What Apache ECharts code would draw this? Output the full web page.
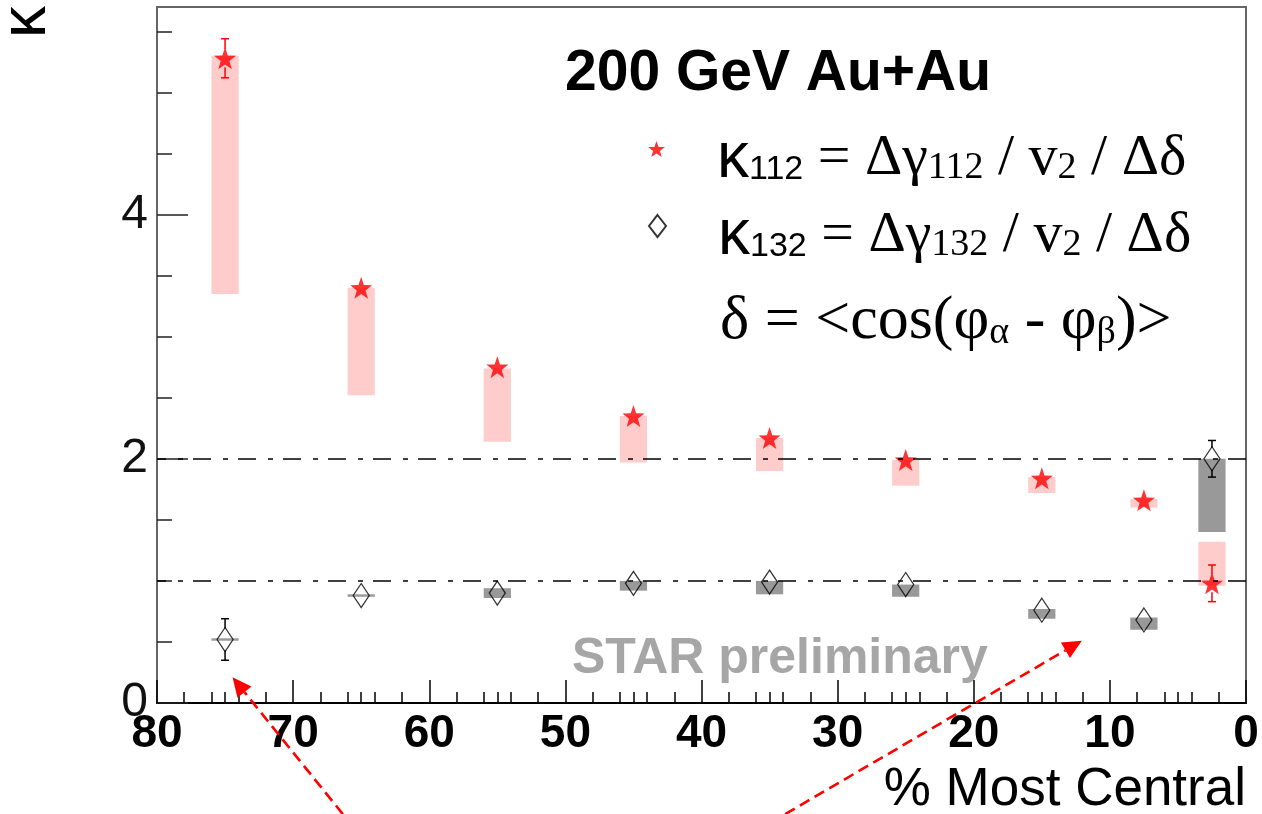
<!DOCTYPE html>
<html>
<head>
<meta charset="utf-8">
<script src="https://cdn.jsdelivr.net/npm/echarts@6/dist/echarts.min.js"></script>
<style>
html,body{margin:0;padding:0;background:#fff}
#main{width:1262px;height:814px}
</style>
</head>
<body>
<div id="main"></div>
<script>
// centrality bin centres (% most central)
var cent = [75, 65, 55, 45, 35, 25, 15, 7.5, 2.5];

// kappa_112 (red stars)
var k112 = [5.28, 3.40, 2.75, 2.35, 2.17, 1.99, 1.84, 1.66, 0.98];
var k112Err = [0.16, 0.04, 0.04, 0.04, 0.04, 0.04, 0.04, 0.05, 0.15];
var k112SysLo = [3.35, 2.52, 2.14, 1.97, 1.90, 1.78, 1.72, 1.60, 0.96];
var k112SysHi = [5.30, 3.40, 2.74, 2.35, 2.17, 1.99, 1.85, 1.67, 1.32];

// kappa_132 (open diamonds)
var k132 = [0.52, 0.88, 0.90, 0.98, 0.99, 0.97, 0.76, 0.68, 2.00];
var k132Err = [0.17, 0.03, 0.03, 0.03, 0.03, 0.03, 0.03, 0.03, 0.15];
var k132SysLo = [0.51, 0.87, 0.86, 0.92, 0.89, 0.87, 0.69, 0.60, 1.40];
var k132SysHi = [0.53, 0.89, 0.94, 1.00, 1.00, 0.97, 0.77, 0.70, 2.00];

// ticks
var xMajorTicks = [0, 10, 20, 30, 40, 50, 60, 70, 80];
var xMinorTicks = [2, 4, 5, 6, 8, 12, 14, 15, 16, 18, 22, 24, 25, 26, 28, 32, 34, 35, 36, 38,
  42, 44, 45, 46, 48, 52, 54, 55, 56, 58, 62, 64, 65, 66, 68, 72, 74, 75, 76, 78];
var yMajorTicks = [0, 2, 4];
var yMinorTicks = [0.5, 1, 1.5, 2.5, 3, 3.5, 4.5, 5, 5.5];
var refLines = [1, 2];

// annotation arrows [fromX, fromY, toX, toY]
var arrows = [[66.35, -0.91, 74.45, 0.21], [33.85, -0.91, 12.06, 0.51]];

var starPath = 'path://M0,-10L2.35,-3.24L9.51,-3.09L3.8,1.24L5.88,8.09L0,4.1L-5.88,8.09L-3.8,1.24L-9.51,-3.09L-2.35,-3.24Z';
var SANS = 'Liberation Sans';
var SERIF = 'Liberation Serif';

function boxes(lo, hi) {
  return cent.map(function (c, i) { return [c, lo[i], hi[i]]; });
}
function errs(v, e) {
  return cent.map(function (c, i) { return [c, v[i], e[i]]; });
}
function renderBox(color) {
  return function (params, api) {
    var p1 = api.coord([api.value(0) + 1, api.value(2)]);
    var p2 = api.coord([api.value(0) - 1, api.value(1)]);
    return {
      type: 'rect',
      shape: { x: Math.min(p1[0], p2[0]), y: p1[1], width: Math.abs(p2[0] - p1[0]), height: p2[1] - p1[1] },
      style: { fill: color }
    };
  };
}
// error bar drawn only outside the marker, like ROOT does
function renderErr(color, half) {
  return function (params, api) {
    var x = api.value(0), v = api.value(1), e = api.value(2);
    var c = api.coord([x, v]), t = api.coord([x, v + e]), b = api.coord([x, v - e]);
    var st = { stroke: color, lineWidth: 1.5 };
    var kids = [];
    if (c[1] - t[1] > half) {
      kids.push({ type: 'line', shape: { x1: t[0], y1: t[1], x2: t[0], y2: c[1] - half }, style: st });
      kids.push({ type: 'line', shape: { x1: t[0] - 4, y1: t[1], x2: t[0] + 4, y2: t[1] }, style: st });
    }
    if (b[1] - c[1] > half) {
      kids.push({ type: 'line', shape: { x1: b[0], y1: c[1] + half, x2: b[0], y2: b[1] }, style: st });
      kids.push({ type: 'line', shape: { x1: b[0] - 4, y1: b[1], x2: b[0] + 4, y2: b[1] }, style: st });
    }
    return { type: 'group', children: kids };
  };
}
function renderArrow(params, api) {
  var p0 = api.coord([api.value(0), api.value(1)]);
  var p1 = api.coord([api.value(2), api.value(3)]);
  var dx = p1[0] - p0[0], dy = p1[1] - p0[1];
  var len = Math.sqrt(dx * dx + dy * dy);
  var ux = dx / len, uy = dy / len;
  var hl = 19, hw = 9;
  var bx = p1[0] - ux * hl, by = p1[1] - uy * hl;
  return {
    type: 'group',
    children: [
      { type: 'line', shape: { x1: p0[0], y1: p0[1], x2: bx, y2: by },
        style: { stroke: '#ff0000', lineWidth: 2.6, lineDash: [11, 6] } },
      { type: 'polygon', shape: { points: [[p1[0], p1[1]], [bx - uy * hw, by + ux * hw], [bx + uy * hw, by - ux * hw]] },
        style: { fill: '#ff0000' } }
    ]
  };
}

var legendText = {
  k112: '{k|κ}{ks|112}{t| = Δγ}{ts|112}{t| / v}{ts|2}{t| / Δδ}',
  k132: '{k|κ}{ks|132}{t| = Δγ}{ts|132}{t| / v}{ts|2}{t| / Δδ}'
};
var rich = {
  k: { fontFamily: SANS, fontSize: 64, lineHeight: 56, color: '#000' },
  ks: { fontFamily: SANS, fontSize: 34, lineHeight: 34, verticalAlign: 'bottom', color: '#000' },
  t: { fontFamily: SERIF, fontSize: 58, lineHeight: 56, color: '#000' },
  ts: { fontFamily: SERIF, fontSize: 38, lineHeight: 24, verticalAlign: 'bottom', color: '#000' },
  d: { fontFamily: SERIF, fontSize: 62, lineHeight: 60, color: '#000' },
  ds: { fontFamily: SERIF, fontSize: 38, lineHeight: 26, verticalAlign: 'bottom', color: '#000' }
};
function legendAt(name, icon, top) {
  return {
    orient: 'vertical', left: 643, top: top,
    itemWidth: 17, itemHeight: 22,
    data: [{ name: name, icon: icon }],
    formatter: function (n) { return legendText[n]; },
    textStyle: { padding: [20, 0, 0, 47], rich: rich },
    selectedMode: false
  };
}

var chart = echarts.init(document.getElementById('main'));
chart.setOption({
  backgroundColor: '#fff',
  animation: false,
  grid: { left: 157, top: 7, width: 1089, height: 696, show: true, borderColor: '#666', borderWidth: 2 },
  legend: [legendAt('k112', starPath, 122), legendAt('k132', 'diamond', 199)],
  xAxis: [{
    type: 'value', min: 0, max: 80, inverse: true,
    axisLine: { show: true, onZero: false, lineStyle: { color: '#000', width: 2 } },
    axisTick: { show: true, inside: true, length: 23, customValues: xMajorTicks, lineStyle: { color: '#000', width: 1.5 } },
    axisLabel: { customValues: xMajorTicks, fontFamily: SANS, fontWeight: 'bold', fontSize: 46, color: '#000', margin: 8 },
    splitLine: { show: false }
  }, {
    type: 'value', min: 0, max: 80, inverse: true, position: 'bottom',
    axisLine: { show: false, onZero: false },
    axisTick: { show: true, inside: true, length: 11, customValues: xMinorTicks, lineStyle: { color: '#000', width: 1.5 } },
    axisLabel: { show: false },
    splitLine: { show: false }
  }],
  yAxis: [{
    type: 'value', min: 0, max: 5.7, position: 'left',
    axisLine: { show: true, onZero: false, lineStyle: { color: '#666', width: 2 } },
    axisTick: { show: true, inside: true, length: 31, customValues: yMajorTicks, lineStyle: { color: '#222', width: 1.5 } },
    axisLabel: { customValues: yMajorTicks, fontFamily: SANS, fontSize: 48, color: '#111', margin: 9 },
    splitLine: { show: false }
  }, {
    type: 'value', min: 0, max: 5.7, position: 'left',
    axisLine: { show: false, onZero: false },
    axisTick: { show: true, inside: true, length: 15, customValues: yMinorTicks, lineStyle: { color: '#222', width: 1.5 } },
    axisLabel: { show: false },
    splitLine: { show: false }
  }],
  graphic: [
    { type: 'text', x: 565, y: 74, style: { text: '200 GeV Au+Au', font: 'bold 57px "Liberation Sans"', fill: '#000', verticalAlign: 'middle' } },
    { type: 'text', x: 720, y: 322, style: {
        text: '{d|δ = <cos(φ}{ds|α}{d| - φ}{ds|β}{d|)>}', rich: rich, verticalAlign: 'middle' } },
    { type: 'text', x: 572, y: 659, style: { text: 'STAR preliminary', font: 'bold 50px "Liberation Sans"', fill: '#a6a6a6', verticalAlign: 'middle' } },
    { type: 'text', x: 1246, y: 790, style: { text: '% Most Central', font: '53px "Liberation Sans"', fill: '#000', align: 'right', verticalAlign: 'middle' } },
    { type: 'text', x: 27, y: 22, rotation: Math.PI / 2, style: { text: 'κ', font: '64px "Liberation Sans"', fill: '#000', align: 'center', verticalAlign: 'middle' } }
  ],
  series: [{
    type: 'custom', name: 'sys112', renderItem: renderBox('#ffcccc'), data: boxes(k112SysLo, k112SysHi), z: 1, silent: true,
    markLine: {
      silent: true, symbol: 'none', label: { show: false },
      lineStyle: { color: '#000', width: 1.6, type: [18, 10, 5, 12] },
      data: refLines.map(function (v) { return { yAxis: v }; })
    }
  }, {
    type: 'custom', name: 'sys132', renderItem: renderBox('#999999'), data: boxes(k132SysLo, k132SysHi), z: 1, silent: true
  }, {
    type: 'custom', name: 'err112', renderItem: renderErr('#ff0000', 9), data: errs(k112, k112Err), z: 3, silent: true
  }, {
    type: 'custom', name: 'err132', renderItem: renderErr('#000', 11), data: errs(k132, k132Err), z: 3, silent: true
  }, {
    type: 'scatter', name: 'k112', symbol: starPath, symbolSize: 22,
    itemStyle: { color: '#ff0000' },
    data: cent.map(function (c, i) { return [c, k112[i]]; }), z: 4
  }, {
    type: 'scatter', name: 'k132', symbol: 'diamond', symbolSize: [16, 24],
    itemStyle: { color: 'rgba(255,255,255,0)', borderColor: '#000', borderWidth: 1.3 },
    data: cent.map(function (c, i) { return [c, k132[i]]; }), z: 4
  }, {
    type: 'custom', name: 'arrows', renderItem: renderArrow, data: arrows, clip: false, z: 5, silent: true
  }]
});
</script>
</body>
</html>
